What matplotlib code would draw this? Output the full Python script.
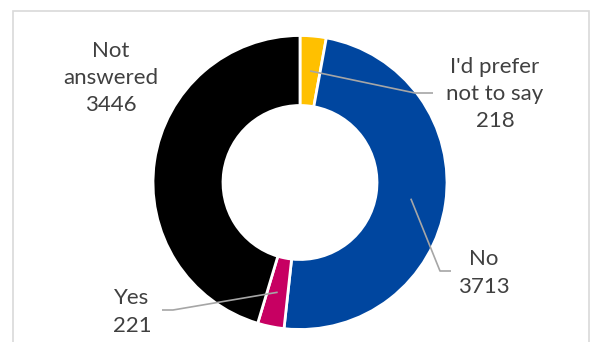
import numpy as np
import matplotlib
import matplotlib.pyplot as plt
from matplotlib.patches import Rectangle

matplotlib.use('Agg')

# data
labels = ["I'd prefer\nnot to say", "No", "Yes", "Not\nanswered"]
counts = [218, 3713, 221, 3446]
colors = ['#FFC000', '#00469F', '#C70062', '#000000']

# layout in pixel coords (y measured from top)
W, H = 593, 342
cx, cy = 300, 182.5
r_out, r_in = 147, 77
label_pos = [(495, 94), (484, 273), (132, 312), (111, 78)]
elbows = [[(415, 93), (433, 93)], [(440, 271), (451, 271)], [(173, 310), (162, 310)], None]

fig = plt.figure(figsize=(W / 100, H / 100), dpi=100)
ax = fig.add_axes([0, 0, 1, 1])
ax.set_xlim(0, W)
ax.set_ylim(0, H)
ax.set_aspect('equal')
ax.axis('off')

wedges, _ = ax.pie(counts, colors=colors, startangle=90, counterclock=False,
                   center=(cx, H - cy), radius=r_out,
                   wedgeprops=dict(width=r_out - r_in, edgecolor='white', linewidth=2))
ax.set_xlim(0, W)
ax.set_ylim(0, H)

# chart border
ax.add_patch(Rectangle((13, -5), 576, H - 11 + 5, fill=False, edgecolor='#d9d9d9', lw=1.2))

r_mid = (r_out + r_in) / 2
for w, lab, n, pos, elb in zip(wedges, labels, counts, label_pos, elbows):
    ang = np.deg2rad((w.theta1 + w.theta2) / 2)
    if elb is not None:
        sx = cx + r_mid * np.cos(ang)
        sy = (H - cy) + r_mid * np.sin(ang)
        xs = [sx] + [p[0] for p in elb]
        ys = [sy] + [H - p[1] for p in elb]
        ax.plot(xs, ys, color='#a6a6a6', lw=1.2, solid_capstyle='butt')
    ax.text(pos[0], H - pos[1], f"{lab}\n{n}", ha='center', va='center',
            fontsize=16, family='Lato', color='#404040', linespacing=1.45)

fig.savefig('out.png', dpi=100)
